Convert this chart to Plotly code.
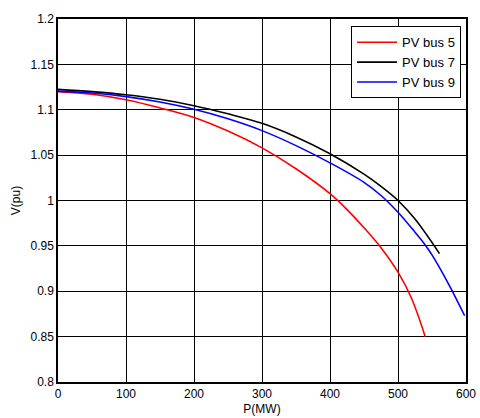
import plotly.graph_objects as go

# Data
p_bus5 = [0, 50, 100, 150, 200, 250, 300, 350, 400, 425, 450, 475, 500, 520, 540]
v_bus5 = [1.120, 1.117, 1.111, 1.102, 1.0915, 1.0765, 1.058, 1.035, 1.0075, 0.990, 0.970, 0.948, 0.921, 0.892, 0.850]

p_bus7 = [0, 50, 100, 150, 200, 250, 300, 350, 400, 450, 475, 500, 525, 561]
v_bus7 = [1.1225, 1.1200, 1.1165, 1.1115, 1.1045, 1.0955, 1.0850, 1.0700, 1.0515, 1.0290, 1.0155, 1.0000, 0.9795, 0.9415]

p_bus9 = [0, 50, 100, 150, 200, 250, 300, 350, 400, 450, 475, 500, 525, 540, 550, 575, 598]
v_bus9 = [1.1205, 1.1185, 1.1145, 1.1085, 1.1005, 1.0900, 1.0770, 1.0605, 1.0415, 1.0200, 1.0055, 0.9870, 0.9650, 0.9510, 0.9400, 0.9070, 0.8730]

series_names = ["PV bus 5", "PV bus 7", "PV bus 9"]
series_colors = ["#ff0000", "#000000", "#0000ff"]

x_ticks = [0, 100, 200, 300, 400, 500, 600]
y_ticks = [0.8, 0.85, 0.9, 0.95, 1.0, 1.05, 1.1, 1.15, 1.2]
y_tick_text = ["0.8", "0.85", "0.9", "0.95", "1", "1.05", "1.1", "1.15", "1.2"]

fig = go.Figure()
for name, color, xs, ys in zip(series_names, series_colors,
                               [p_bus5, p_bus7, p_bus9],
                               [v_bus5, v_bus7, v_bus9]):
    fig.add_trace(go.Scatter(x=xs, y=ys, mode="lines", name=name,
                             line=dict(color=color, width=1.6, shape="spline", smoothing=1)))

font_family = "Arial, Liberation Sans, sans-serif"
axis_common = dict(showgrid=True, gridcolor="#000000", gridwidth=1,
                   showline=True, linecolor="#000000", linewidth=1.5, mirror=True,
                   zeroline=False, ticks="inside", ticklen=4, tickcolor="#000000",
                   automargin=False,
                   tickfont=dict(family=font_family, size=12, color="#000000"))

fig.update_layout(
    width=480, height=418,
    margin=dict(l=58, r=14, t=19, b=36),
    paper_bgcolor="white", plot_bgcolor="white",
    font=dict(family=font_family, size=12, color="#000000"),
    xaxis=dict(range=[0, 600], tickvals=x_ticks,
               title=dict(text="P(MW)", standoff=4, font=dict(size=12)),
               **axis_common),
    yaxis=dict(range=[0.8, 1.2], tickvals=y_ticks, ticktext=y_tick_text,
               title=dict(text="V(pu)", standoff=7, font=dict(size=12)),
               **axis_common),
    legend=dict(x=0.988, y=0.98, xanchor="right", yanchor="top",
                bgcolor="white", bordercolor="#000000", borderwidth=1,
                font=dict(family=font_family, size=13, color="#000000"),
                itemwidth=40, tracegroupgap=0),
    showlegend=True,
)

fig.write_html("out.html",
               config={"displayModeBar": False},
               post_script="document.body.style.margin='0';document.body.style.padding='0';")
